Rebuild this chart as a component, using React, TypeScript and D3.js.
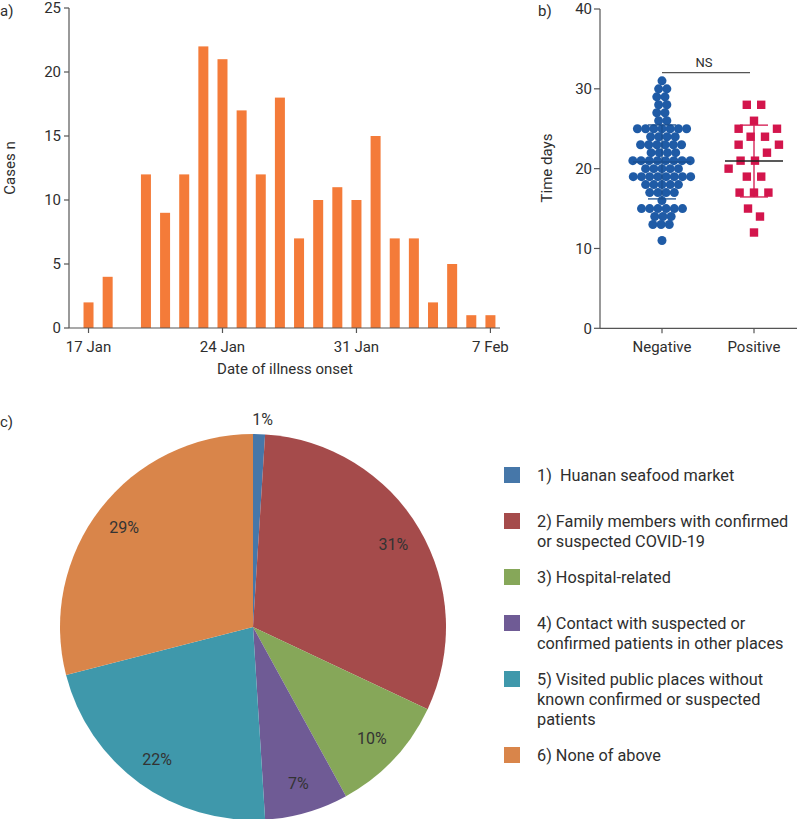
import React from 'react';
import * as d3 from 'd3';

// a) daily onset counts
const onsetDays = ['17 Jan', '18 Jan', '19 Jan', '20 Jan', '21 Jan', '22 Jan', '23 Jan', '24 Jan', '25 Jan', '26 Jan', '27 Jan',
  '28 Jan', '29 Jan', '30 Jan', '31 Jan', '1 Feb', '2 Feb', '3 Feb', '4 Feb', '5 Feb', '6 Feb', '7 Feb'];
const onsetCases = [2, 4, 0, 12, 9, 12, 22, 21, 17, 12, 18, 7, 10, 11, 10, 15, 7, 7, 2, 5, 1, 1];
const dateTicks = ['17 Jan', '24 Jan', '31 Jan', '7 Feb'];
const caseTicks = [0, 5, 10, 15, 20, 25];

// b) time in days by group
const groups = ['Negative', 'Positive'];
const negativeDays = [
  31, 30, 30, 29, 29, 28, 28, 27, 27, 26, 26,
  25, 25, 25, 25, 25, 25, 25, 24, 24, 24, 24,
  23, 23, 23, 23, 23, 23, 22, 22, 22, 22,
  21, 21, 21, 21, 21, 21, 21, 21, 20, 20, 20, 20, 20,
  19, 19, 19, 19, 19, 19, 19, 19, 18, 18, 18, 18, 18,
  17, 17, 17, 17, 16, 15, 15, 15, 15, 15, 15,
  14, 14, 14, 13, 13, 13, 11,
];
const positiveDays = [28, 28, 26, 25, 25, 24, 24, 23, 23, 22, 21, 21, 20, 19, 19, 17, 17, 17, 15, 14, 12];
const timeTicks = [0, 10, 20, 30, 40];

// c) source of infection
const sourceLabels = [
  ['1)  Huanan seafood market'],
  ['2) Family members with confirmed', 'or suspected COVID-19'],
  ['3) Hospital-related'],
  ['4) Contact with suspected or', 'confirmed patients in other places'],
  ['5) Visited public places without', 'known confirmed or suspected', 'patients'],
  ['6) None of above'],
];
const sourceShares = [1, 31, 10, 7, 22, 29];
const sourceColors = ['#4677a9', '#a54b4b', '#86a759', '#6f5b95', '#3f98ab', '#d9854a'];

const FONT = 'Roboto, "DejaVu Sans", sans-serif';
const INK = '#2e2e2e';
const AXIS = '#555';

type Node = { v: number; x: number; y: number; fy?: number };

// beeswarm through a small collide simulation (y fixed to the value)
function swarm(values: number[], x0: number, y: d3.ScaleLinear<number, number>, radius: number) {
  const nodes: Node[] = values.map((v, i) => ({ v, x: x0 + (i % 2 ? 0.5 : -0.5) * (i % 5), y: y(v), fy: y(v) }));
  const sim = d3.forceSimulation(nodes as any)
    .force('x', d3.forceX(x0).strength(0.08))
    .force('collide', d3.forceCollide(radius).iterations(3))
    .stop();
  for (let i = 0; i < 300; i++) sim.tick();
  return nodes;
}

const App = () => {
  // ---- panel a
  const xa = d3.scaleLinear().domain([-1.02, 21.5]).range([69, 500]);
  const ya = d3.scaleLinear().domain([0, 25]).range([328, 8]);

  // ---- panel b
  const yb = d3.scaleLinear().domain([0, 40]).range([328.3, 9]);
  const xb = d3.scalePoint<string>().domain(groups).range([662, 754]);
  const series = [
    { key: 'Negative', values: negativeDays, color: '#1f5ba6', line: '#1b4f8f', mean: '#1b4f8f', radius: 4.1 },
    { key: 'Positive', values: positiveDays, color: '#d3154c', line: '#d3154c', mean: '#222', radius: 7.2 },
  ];

  // ---- panel c
  const cx = 253;
  const cy = 627;
  const R = 193;
  const pie = d3.pie<number>().sort(null).value(d => d);
  const arcs = pie(sourceShares);
  const arc = d3.arc<d3.PieArcDatum<number>>().innerRadius(0).outerRadius(R);
  const labelArc = d3.arc<d3.PieArcDatum<number>>().innerRadius(163).outerRadius(163);
  const outerArc = d3.arc<d3.PieArcDatum<number>>().innerRadius(208).outerRadius(208);

  let legendY = 467;
  const legendTops = sourceLabels.map(lines => {
    const t = legendY;
    legendY += lines.length * 20 + (lines.length === 1 ? 26 : 16);
    return t;
  });

  return (
    <>
      <style>{'body{margin:0;overflow:hidden}'}</style>
      <svg width={799} height={819} style={{ display: 'block', fontFamily: FONT }}>
        <rect width={799} height={819} fill="#fff" />

        {/* ===== a) ===== */}
        <text x={0} y={16} fontSize={15} fill={INK}>a)</text>
        <g>
          {onsetCases.map((c, i) => (
            <rect key={onsetDays[i]} x={xa(i) - 5} y={ya(c)} width={10} height={ya(0) - ya(c)} fill="#f47b39" />
          ))}
          <line x1={69} x2={69} y1={ya(25)} y2={ya(0)} stroke={AXIS} strokeWidth={1.2} />
          <line x1={69} x2={500} y1={ya(0)} y2={ya(0)} stroke={AXIS} strokeWidth={1.2} />
          {caseTicks.map(t => (
            <g key={t}>
              <line x1={64} x2={69} y1={ya(t)} y2={ya(t)} stroke={AXIS} strokeWidth={1.2} />
              <text x={61} y={ya(t)} dy="0.36em" textAnchor="end" fontSize={15} fill={INK}>{t}</text>
            </g>
          ))}
          {dateTicks.map(t => {
            const i = onsetDays.indexOf(t);
            return (
              <g key={t}>
                <line x1={xa(i)} x2={xa(i)} y1={ya(0)} y2={ya(0) + 5} stroke={AXIS} strokeWidth={1.2} />
                <text x={xa(i)} y={352} textAnchor="middle" fontSize={15} fill={INK}>{t}</text>
              </g>
            );
          })}
          <text transform="translate(15,168) rotate(-90)" textAnchor="middle" fontSize={15} fill={INK}>Cases n</text>
          <text x={285} y={374} textAnchor="middle" fontSize={15} fill={INK}>Date of illness onset</text>
        </g>

        {/* ===== b) ===== */}
        <text x={538} y={16} fontSize={15} fill={INK}>b)</text>
        <g>
          <line x1={600} x2={600} y1={yb(40)} y2={yb(0)} stroke={AXIS} strokeWidth={1.2} />
          <line x1={600} x2={797} y1={yb(0)} y2={yb(0)} stroke={AXIS} strokeWidth={1.2} />
          {timeTicks.map(t => (
            <g key={t}>
              <line x1={594} x2={600} y1={yb(t)} y2={yb(t)} stroke={AXIS} strokeWidth={1.2} />
              <text x={592} y={yb(t)} dy="0.36em" textAnchor="end" fontSize={15} fill={INK}>{t}</text>
            </g>
          ))}
          {groups.map(g => (
            <g key={g}>
              <line x1={xb(g)} x2={xb(g)} y1={yb(0)} y2={yb(0) + 5} stroke={AXIS} strokeWidth={1.2} />
              <text x={xb(g)} y={352} textAnchor="middle" fontSize={15} fill={INK}>{g}</text>
            </g>
          ))}
          <text transform="translate(552,168) rotate(-90)" textAnchor="middle" fontSize={15} fill={INK}>Time days</text>

          {series.map(s => {
            const x0 = xb(s.key) as number;
            const pts = swarm(s.values, x0, yb, s.radius);
            const m = d3.mean(s.values) as number;
            const sd = d3.deviation(s.values) as number;
            return (
              <g key={s.key}>
                {pts.map((p, i) =>
                  s.key === 'Negative'
                    ? <circle key={i} cx={p.x} cy={yb(p.v)} r={4.5} fill={s.color} />
                    : <rect key={i} x={p.x - 4.2} y={yb(p.v) - 4.2} width={8.4} height={8.4} fill={s.color} />
                )}
                <line x1={x0} x2={x0} y1={yb(m + sd)} y2={yb(m - sd)} stroke={s.line} strokeWidth={1.3} />
                <line x1={x0 - 14} x2={x0 + 14} y1={yb(m + sd)} y2={yb(m + sd)} stroke={s.line} strokeWidth={1.3} />
                <line x1={x0 - 14} x2={x0 + 14} y1={yb(m - sd)} y2={yb(m - sd)} stroke={s.line} strokeWidth={1.3} />
                <line x1={x0 - 29} x2={x0 + 29} y1={yb(m)} y2={yb(m)} stroke={s.mean} strokeWidth={1.5} />
              </g>
            );
          })}

          <line x1={xb('Negative')} x2={(xb('Positive') as number) - 4} y1={72.7} y2={72.7} stroke={AXIS} strokeWidth={1.2} />
          <text x={704} y={67} textAnchor="middle" fontSize={13} fill={INK}>NS</text>
        </g>

        {/* ===== c) ===== */}
        <text x={0} y={427} fontSize={15} fill={INK}>c)</text>
        <g transform={`translate(${cx},${cy})`}>
          {arcs.map((a, i) => (
            <path key={i} d={arc(a) as string} fill={sourceColors[i]} />
          ))}
          {arcs.map((a, i) => {
            const [lx, ly] = a.data < 3 ? outerArc.centroid(a) : labelArc.centroid(a);
            return (
              <text key={i} x={lx + (a.data < 3 ? 3 : 0)} y={ly} dy="0.36em" textAnchor="middle" fontSize={16} fill="#333">
                {a.data}%
              </text>
            );
          })}
        </g>

        {sourceLabels.map((lines, i) => (
          <g key={i} transform={`translate(504,${legendTops[i]})`}>
            <rect width={16} height={16} fill={sourceColors[i]} />
            {lines.map((ln, j) => (
              <text key={j} x={33} y={14 + j * 20} fontSize={16.3} fill={INK} style={{ whiteSpace: 'pre' }}>{ln}</text>
            ))}
          </g>
        ))}
      </svg>
    </>
  );
};

export default App;
